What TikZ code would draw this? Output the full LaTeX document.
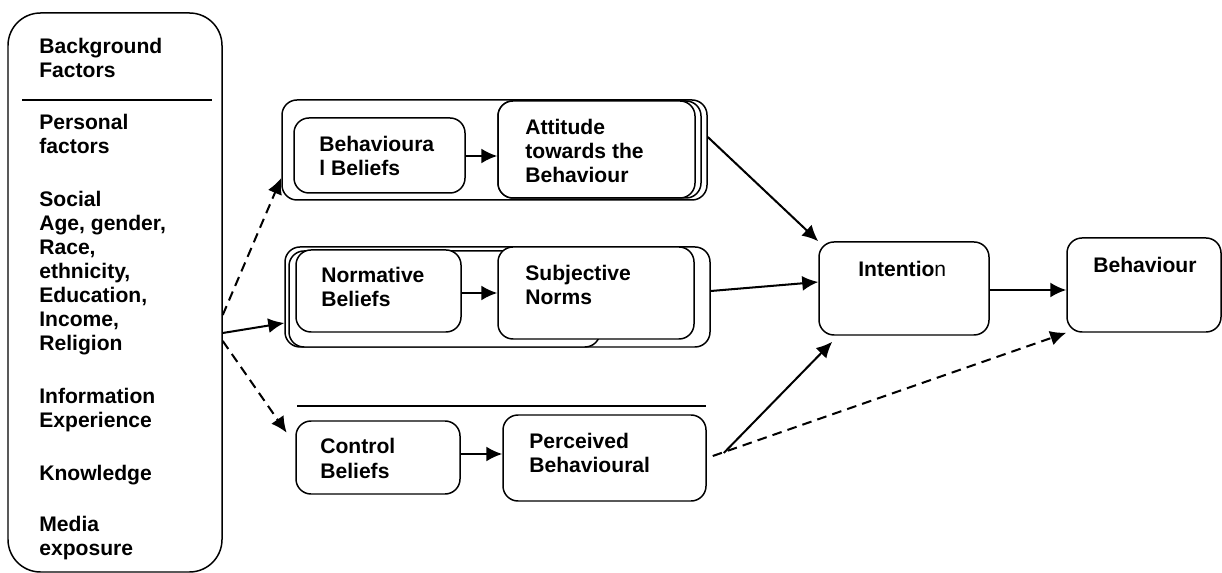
\documentclass[tikz,border=0pt]{standalone}
\usepackage{fontspec}
\setmainfont{Liberation Sans}
\usetikzlibrary{arrows.meta,fit}
\tikzset{
  box/.style={draw, rounded corners=0.3cm, inner sep=0pt, line width=0.85pt, fill=white},
  lbl/.style={font=\fontsize{12}{13.66}\selectfont\bfseries, align=left, inner sep=0pt, anchor=base west},
  arr/.style={-{Latex[length=0.32cm,width=0.3cm]}, line width=1.15pt},
  dsh/.style={dash pattern=on 5.5pt off 3.5pt},
}
\begin{document}
\begin{tikzpicture}[x=0.02cm, y=-0.02cm]
\useasboundingbox (0,0) rectangle (1222,573);

% background factors (base = last line)
\node[box, rounded corners=0.65cm, fit={(8,13) (222,572)}] (bg) {};
\draw[line width=0.85pt] (22,100) -- (212,100);
\node[lbl] (bg1) at (39,78) {Background\\Factors};
\node[lbl] (bg2) at (39,154) {Personal\\factors};
\node[lbl] (bg3) at (39,351) {Social\\Age, gender,\\Race,\\ethnicity,\\Education,\\Income,\\Religion};
\node[lbl] (bg4) at (39,428) {Information\\Experience};
\node[lbl] (bg5) at (39,480) {Knowledge};
\node[lbl] (bg6) at (39,555) {Media\\exposure};

% attitude
\node[box, fit={(282,100) (707,200)}] (g1) {};
\node[box, fill=none, fit={(498,101) (701,198)}] (att2) {};
\node[box, fit={(498,101) (695,198)}] (att) {};
\node[box, fit={(294,118) (465,193)}] (bb) {};
\node[lbl] (bb-t) at (319,176) {Behavioura\\l Beliefs};
\node[lbl] (att-t) at (525,183) {Attitude\\towards the\\Behaviour};

% subjective norms
\node[box, fit={(285,247) (710,347)}] (g2) {};
\node[box, fit={(289,251) (600,347)}] (g2b) {};
\node[box, fit={(296,250) (461,332)}] (nb) {};
\node[box, fit={(498,247) (694,339)}] (sn) {};
\node[lbl] (nb-t) at (321,307) {Normative\\Beliefs};
\node[lbl] (sn-t) at (525,305) {Subjective\\Norms};

% perceived control
\draw[line width=1.3pt] (297,406) -- (706,406);
\node[box, fit={(296,421) (460,494)}] (cb) {};
\node[box, fit={(503,415) (706,501)}] (pbc) {};
\node[lbl] (cb-t) at (320,478) {Control\\Beliefs};
\node[lbl] (pbc-t) at (529,472) {Perceived\\Behavioural};

% intention, behaviour
\node[box, fit={(819,242) (989,335)}] (int) {};
\node[box, fit={(1067,238) (1221,332)}] (beh) {};
\node[lbl] (int-t) at (858,277) {Intentio\textmd{n}};
\node[lbl] (beh-t) at (1093,273) {Behaviour};

\draw[arr, dsh] (bg.east |- 0,315) -- (g1.west |- 0,178);
\draw[arr] (bg.east |- 0,333) -- (g2.west |- 0,323);
\draw[arr, dsh, shorten >=0.3cm] (bg.east |- 0,341) -- (cb.west |- 0,445);

\draw[arr] (bb.east |- 0,156) -- (att.west |- 0,156);
\draw[arr] (nb.east |- 0,293) -- (sn.west |- 0,293);
\draw[arr] (cb.east |- 0,454) -- (pbc.west |- 0,454);

\draw[arr] (g1.east |- 0,137) -- (int.north west);
\draw[arr] (g2.east |- 0,291) -- (int.west |- 0,282);
\draw[arr] ([shift={(17,-5)}]pbc.east) -- ([shift={(14,6)}]int.south west);
\draw[arr, dsh] ([shift={(6,-2)}]pbc.east) -- (beh.south west);
\draw[arr] (int.east |- 0,290) -- (beh.west |- 0,290);

\end{tikzpicture}
\end{document}
